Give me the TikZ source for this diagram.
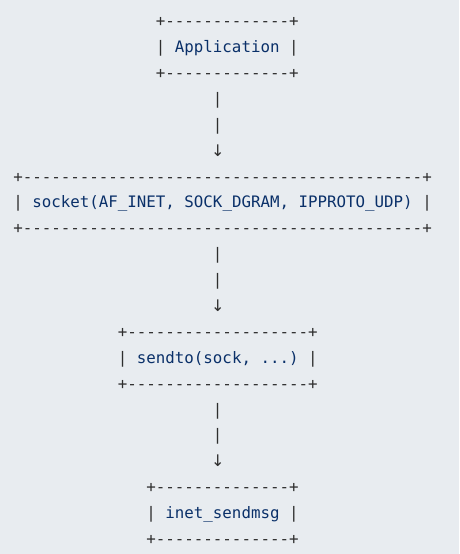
\documentclass[tikz,border=0pt]{standalone}
\usepackage{fontspec}
\setmonofont{DejaVu Sans Mono}
\newfontfamily\arrowfont{DejaVu Sans}
\definecolor{bg}{HTML}{E8ECF0}
\definecolor{fg}{HTML}{2E2E2E}
\definecolor{tc}{HTML}{0A3069}
\tikzset{
  ln/.style={anchor=base west, inner sep=0pt, outer sep=0pt,
    font=\fontsize{15.8}{19}\selectfont\ttfamily, text=fg},
  arr/.style={anchor=base, inner sep=0pt, outer sep=0pt,
    font=\fontsize{16}{19}\selectfont\arrowfont, text=fg},
}
\newcommand\lbl[1]{\textcolor{tc}{#1}}
\begin{document}
\begin{tikzpicture}[x=9.51pt,y=-25.88pt]
\fill[bg] (0pt,0pt) rectangle (459pt,-554pt);
\useasboundingbox (0pt,0pt) rectangle (459pt,-554pt);
\begin{scope}[shift={(13.25pt,-26.8pt)}]
% Application box
\node[ln] (apptop) at (15,0) {+-------------+};
\node[ln] (app)    at (15,1) {| \lbl{Application} |};
\node[ln] (appbot) at (15,2) {+-------------+};
\node[ln] (c1a) at (21,3) {|};
\node[ln] (c1b) at (21,4) {|};
\node[arr] (c1c) at (21.5,5) {↓};
% socket box
\node[ln] (socktop) at (0,6) {+------------------------------------------+};
\node[ln] (sock)    at (0,7) {| \lbl{socket(AF\_INET, SOCK\_DGRAM, IPPROTO\_UDP)} |};
\node[ln] (sockbot) at (0,8) {+------------------------------------------+};
\node[ln] (c2a) at (21,9) {|};
\node[ln] (c2b) at (21,10) {|};
\node[arr] (c2c) at (21.5,11) {↓};
% sendto box
\node[ln] (sendtop) at (11,12) {+-------------------+};
\node[ln] (send)    at (11,13) {| \lbl{sendto(sock, ...)} |};
\node[ln] (sendbot) at (11,14) {+-------------------+};
\node[ln] (c3a) at (21,15) {|};
\node[ln] (c3b) at (21,16) {|};
\node[arr] (c3c) at (21.5,17) {↓};
% inet_sendmsg box
\node[ln] (inettop) at (14,18) {+--------------+};
\node[ln] (inet)    at (14,19) {| \lbl{inet\_sendmsg} |};
\node[ln] (inetbot) at (14,20) {+--------------+};
\end{scope}
\end{tikzpicture}
\end{document}
